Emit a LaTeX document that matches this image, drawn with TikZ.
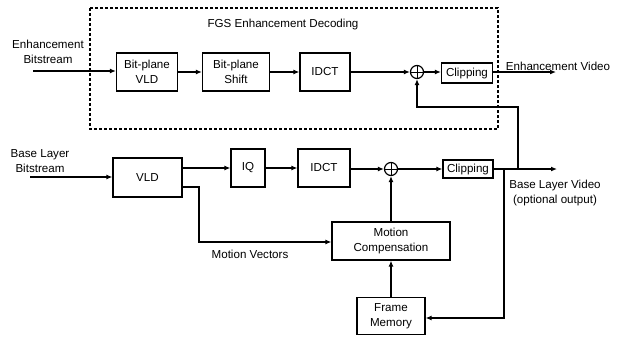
\documentclass[tikz,border=0pt]{standalone}
\usepackage{fontspec}
\setmainfont{Liberation Sans}
\usetikzlibrary{arrows.meta,calc}
\begin{document}
\begin{tikzpicture}[x=1pt,y=-1pt,
  every node/.style={font=\fontsize{11.6}{14.5}\selectfont, inner sep=0pt},
  blk/.style={draw, line width=1.2pt, align=center},
  lbl/.style={align=center},
  adder/.style={draw, circle, line width=1.2pt, minimum size=13pt,
    path picture={\draw[line width=1pt] (path picture bounding box.north) -- (path picture bounding box.south)
      (path picture bounding box.west) -- (path picture bounding box.east);}},
  conn/.style={line width=1.2pt},
  arr/.style={line width=1.2pt, -{Latex[length=6pt,width=5pt]}},
  ]
\useasboundingbox (0,0) rectangle (622,338);
% dashed region
\draw[line width=1.6pt, dash pattern=on 3pt off 2pt] (90,8) rectangle (498,129);
\node[lbl] (fgs) at (283,24) {FGS Enhancement Decoding};
% enhancement layer
\node[lbl] (ebs) at (48,52) {Enhancement\\Bitstream};
\coordinate (ein) at (33,71);
\node[blk, minimum width=61pt, minimum height=38pt] (bpvld) at (147,72) {Bit-plane\\VLD};
\node[blk, minimum width=67pt, minimum height=38pt] (bps) at (236,72) {Bit-plane\\Shift};
\node[blk, minimum width=50pt, minimum height=38pt] (idct1) at (325,72) {IDCT};
\node[adder] (add1) at (417,72) {};
\node[blk, minimum width=51pt, minimum height=20pt] (clip1) at (467,73) {Clipping};
\coordinate (eout) at (556,72);
\node[lbl, anchor=south] (evid) at (558,71) {Enhancement Video};
\draw[arr] (ein) -- (bpvld.west |- ein);
\draw[arr] (bpvld) -- (bps);
\draw[arr] (bps) -- (idct1);
\draw[arr] (idct1) -- (add1);
\draw[arr] (add1) -- (clip1.west |- add1);
\draw[arr] (clip1.east |- add1) -- (eout);
% base layer
\node[lbl] (bbs) at (40,161) {Base Layer\\Bitstream};
\coordinate (bin) at (30,177);
\node[blk, minimum width=69pt, minimum height=39pt] (vld) at (147.5,177.5) {VLD};
\node[blk, minimum width=34pt, minimum height=38pt] (iq) at (248,168) {IQ};
\node[blk, minimum width=52pt, minimum height=38pt] (idct2) at (324,168) {IDCT};
\node[adder] (add2) at (391,169) {};
\node[blk, minimum width=50pt, minimum height=18pt] (clip2) at (468,169) {Clipping};
\coordinate (bout) at (557,169);
\node[lbl, anchor=north] (bvid) at (555,180) {Base Layer Video\\(optional output)};
\node[blk, minimum width=118pt, minimum height=38pt] (mc) at (391,241) {Motion\\Compensation};
\node[blk, minimum width=68pt, minimum height=37pt] (fm) at (391,316) {Frame\\Memory};
\node[lbl] (mv) at (250,254) {Motion Vectors};
\draw[arr] (bin) -- (vld.west |- bin);
\draw[arr] (vld.east |- iq) -- (iq);
\draw[arr] (iq) -- (idct2);
\draw[arr] (idct2.east |- add2) -- (add2);
\draw[arr] (add2) -- (clip2);
\draw[arr] (clip2) -- (bout);
\draw[arr] (vld.east |- 0,187) -| (199,242) -- (mc.west |- 0,242);
\draw[arr] (mc) -- (add2);
\draw[arr] (fm) -- (mc);
\coordinate (tap1) at (518,169);
\coordinate (tap2) at (504,169);
\draw[arr] (tap1) |- (417,107) -- (add1);
\draw[arr] (tap2) |- (fm.east |- 0,318);
\end{tikzpicture}
\end{document}
